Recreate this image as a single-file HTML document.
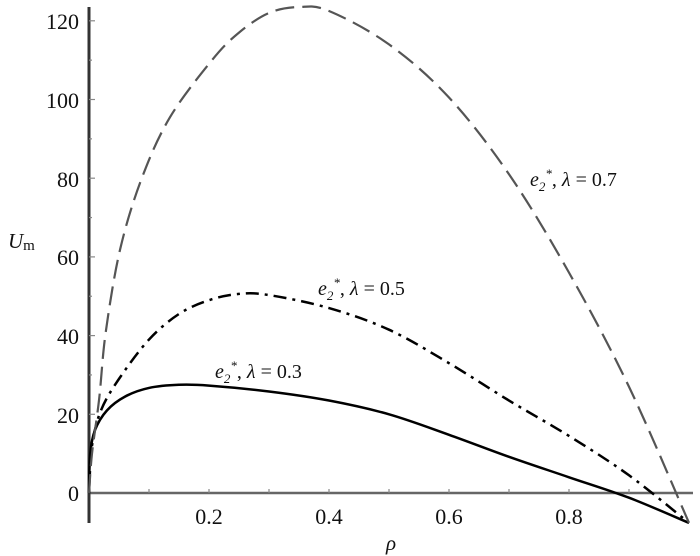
<!DOCTYPE html>
<html><head><meta charset="utf-8"><style>
body{margin:0;background:#fff}
svg{display:block}
svg text{font-family:"Liberation Serif","Times New Roman",Times,"DejaVu Serif",serif}
</style></head><body>
<svg id="s" width="700" height="556" viewBox="0 0 700 556">
<line x1="89" y1="493" x2="693" y2="493" stroke="#666" stroke-width="2.5"/>
<line x1="89" y1="7" x2="89" y2="523" stroke="#333" stroke-width="3"/>
<g id="ticks" stroke="#888" stroke-width="1.2"></g>
<g font-size="22" text-anchor="end" fill="#111">
<text x="79" y="29">120</text><text x="79" y="108">100</text><text x="79" y="187">80</text>
<text x="79" y="265">60</text><text x="79" y="344">40</text><text x="79" y="423">20</text><text x="79" y="501">0</text>
</g>
<g font-size="22" text-anchor="middle" fill="#111">
<text x="209" y="524">0.2</text><text x="329" y="524">0.4</text><text x="449" y="524">0.6</text><text x="569" y="524">0.8</text>
</g>
<text x="8" y="248" font-size="21" font-style="italic" fill="#111">U<tspan font-size="15" font-style="normal" dy="2">m</tspan></text>
<text x="386" y="550" font-size="21" font-style="italic" fill="#111">ρ</text>
<g font-size="20" font-style="italic" fill="#111">
<text x="530" y="186">e<tspan font-size="13" dy="5">2</tspan><tspan font-size="13" dy="-13">*</tspan><tspan dy="8" font-style="normal">, </tspan>λ<tspan font-style="normal"> = 0.7</tspan></text>
<text x="318" y="295">e<tspan font-size="13" dy="5">2</tspan><tspan font-size="13" dy="-13">*</tspan><tspan dy="8" font-style="normal">, </tspan>λ<tspan font-style="normal"> = 0.5</tspan></text>
<text x="215" y="378">e<tspan font-size="13" dy="5">2</tspan><tspan font-size="13" dy="-13">*</tspan><tspan dy="8" font-style="normal">, </tspan>λ<tspan font-style="normal"> = 0.3</tspan></text>
</g>
<path id="p1" fill="none" stroke="#000" stroke-width="2.5"/>
<path id="p2" fill="none" stroke="#000" stroke-width="2.5" stroke-dasharray="13 6 3 6"/>
<path id="p3" fill="none" stroke="#555" stroke-width="2.2" stroke-dasharray="19 8"/>
</svg>
<script>
function X(r){return 89+600*r}function Y(u){return 493-3.935*u}
var s1=[[0,0],[0.002,10],[0.01,16],[0.03,21],[0.06,24.5],[0.1,26.7],[0.15,27.5],[0.2,27.3],[0.3,25.8],[0.4,23.5],[0.5,20],[0.6,14.8],[0.7,9.2],[0.8,4],[0.9,-1.2],[1,-7.6]];
var s2=[[0,0],[0.005,12],[0.02,21],[0.05,29],[0.1,39],[0.15,45.5],[0.2,49],[0.25,50.6],[0.3,50.3],[0.4,47],[0.5,41.5],[0.6,33],[0.7,23.5],[0.8,14.5],[0.9,4.5],[1,-7.6]];
var s3=[[0,0],[0.005,10],[0.017,24],[0.028,41],[0.052,62],[0.088,80],[0.135,95.5],[0.205,110],[0.25,117],[0.3,122],[0.35,123.5],[0.4,122.5],[0.5,114],[0.6,100.5],[0.7,81],[0.8,56],[0.9,27],[1,-7.6]];
function path(d){var p=d.map(function(a){return[X(a[0]),Y(a[1])]});var s="M"+p[0][0]+","+p[0][1];
for(var i=0;i<p.length-1;i++){var p0=p[Math.max(i-1,0)],p1=p[i],p2=p[i+1],p3=p[Math.min(i+2,p.length-1)];
s+=" C"+(p1[0]+(p2[0]-p0[0])/6)+","+(p1[1]+(p2[1]-p0[1])/6)+" "+(p2[0]-(p3[0]-p1[0])/6)+","+(p2[1]-(p3[1]-p1[1])/6)+" "+p2[0]+","+p2[1];}return s;}
document.getElementById('p1').setAttribute('d',path(s1));
document.getElementById('p2').setAttribute('d',path(s2));
document.getElementById('p3').setAttribute('d',path(s3));
var t="";for(var k=1;k<10;k++){var x=X(k/10);t+='<line x1="'+x+'" y1="489" x2="'+x+'" y2="493"/>';}
for(var v=10;v<=120;v+=10){var y=Y(v);t+='<line x1="89" y1="'+y+'" x2="'+(v%20?92:95)+'" y2="'+y+'"/>';}
document.getElementById('ticks').innerHTML=t;
</script>
</body></html>
